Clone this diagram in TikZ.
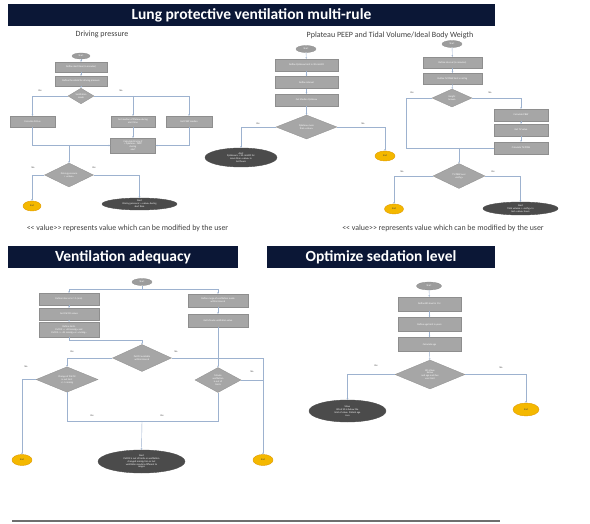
\documentclass[tikz,border=0pt]{standalone}
\usepackage{fontspec}
\setmainfont{Carlito}
\usetikzlibrary{shapes.geometric,arrows.meta}
\definecolor{navy}{HTML}{0B1736}
\definecolor{boxfill}{HTML}{A6A6A6}
\definecolor{boxline}{HTML}{8E8E8E}
\definecolor{darkell}{HTML}{4B4B4B}
\definecolor{startfill}{HTML}{9C9C9C}
\definecolor{endfill}{HTML}{F4B800}
\definecolor{endline}{HTML}{E09A00}
\definecolor{conncol}{HTML}{9DB2CF}
\definecolor{txtgray}{HTML}{404040}
\definecolor{rulegray}{HTML}{6E6E6E}
\tikzset{
  tiny/.style={font=\fontsize{2.5}{2.9}\selectfont},
  sz/.style 2 args={minimum width=#1pt, minimum height=#2pt},
  banner/.style={fill=navy, text=white, font=\bfseries\fontsize{15.5}{17}\selectfont, inner sep=0pt, anchor=center},
  subtitle/.style={text=txtgray, font=\fontsize{8}{9}\selectfont, inner sep=0pt},
  footer/.style={text=txtgray, font=\fontsize{7.9}{9}\selectfont, inner sep=0pt},
  stepbox/.style={rectangle, fill=boxfill, draw=boxline, line width=0.3pt, text=white, tiny, align=center, inner sep=0.5pt},
  decision/.style={diamond, fill=boxfill, draw=boxline, line width=0.3pt, text=white, tiny, align=center, inner sep=0pt},
  startnode/.style={ellipse, fill=startfill, draw=boxline, line width=0.3pt, text=white, tiny, inner sep=0pt},
  endnode/.style={ellipse, fill=endfill, draw=endline, line width=0.4pt, text=txtgray, tiny, inner sep=0pt},
  alertnode/.style={ellipse, fill=darkell, draw=darkell, text=white, tiny, align=center, inner sep=0pt},
  lbl/.style={text=txtgray, tiny, inner sep=0pt},
  conn/.style={draw=conncol, line width=0.4pt, -{Stealth[length=1.6pt,width=1.6pt]}},
  plain/.style={draw=conncol, line width=0.4pt},
}
\begin{document}
\begin{tikzpicture}[x=1pt,y=-1pt]
\useasboundingbox (0,0) rectangle (590,524);
\fill[white] (0,0) rectangle (590,524);

% ===== banners =====
\node[banner, minimum width=487pt, minimum height=22pt] (ban1) at (251.5,15) {Lung protective ventilation multi-rule};
\node[banner, minimum width=230pt, minimum height=22pt] (ban2) at (123,257) {Ventilation adequacy};
\node[banner, minimum width=228pt, minimum height=22pt] (ban3) at (381,257) {Optimize sedation level};
\draw[rulegray, line width=1.3pt] (12,521) -- (500,521);

% ===== Driving pressure =====
\node[subtitle] (dptitle) at (102,34) {Driving pressure};
\node[startnode, sz={18}{6}] (dpstart) at (81,56) {Start};
\node[stepbox, sz={52}{10}] (dpb1) at (81,67) {Define alert time (in minutes)};
\node[stepbox, sz={52}{10}] (dpb2) at (81,81) {Define threshold for driving pressure};
\node[decision, sz={26}{13}] (dpd1) at (81,96) {Ventilation\\mode};
\node[lbl] (dpyes1) at (40,91) {Yes};
\node[lbl] (dpno1) at (121,91) {No};
\node[stepbox, sz={45}{11}] (dpl) at (32.5,121.5) {Calculate Pdrive};
\node[stepbox, sz={44}{11}] (dpm) at (133,121.5) {Get median of Plateau during\\alert time};
\node[stepbox, sz={46}{11}] (dpr) at (189,121.5) {Get PEEP median};
\node[stepbox, sz={45}{15}] (dpc) at (133,145.5) {Calculate Driving P\\= Pplateau - PEEP\\during\\alert};
\node[decision, sz={49}{24}] (dpd2) at (69,175) {Driving pressure\\> {<<}value{>>}};
\node[lbl] (dpno2) at (33,168) {No};
\node[lbl] (dpyes2) at (94,168) {Yes};
\node[endnode, sz={18}{10}] (dpend) at (32,206) {End};
\node[alertnode, sz={75}{12}] (dpalert) at (139.5,204) {Alert\\Driving pressure {>} {<<}value{>>} during\\alert time};
\node[footer] (dpfoot) at (127.5,228) {<{}< value>{}> represents value which can be modified by the user};

\draw[conn] (dpstart) -- (dpb1);
\draw[conn] (dpb1) -- (dpb2);
\draw[conn] (dpb2) -- (dpd1);
\draw[conn] (dpd1.west) -| (dpl.north);
\draw[conn] (dpd1.east) -| (dpr.north);
\draw[conn] (dpm.north |- dpd1.east) -- (dpm.north);
\draw[conn] (dpm) -- (dpc);
\draw[conn] (dpl.south) |- (dpc.west);
\draw[conn] (dpr.south) |- (dpc.east);
\draw[conn] (dpd2.north |- dpc.west) -- (dpd2.north);
\draw[conn] (dpd2.west) -| (dpend.north);
\draw[conn] (dpd2.east) -| (dpalert.north);

% ===== Pplateau =====
\node[subtitle] (pptitle) at (390,35) {Pplateau PEEP and Tidal Volume/Ideal Body Weigth};
\node[startnode, sz={20}{7}] (ppstart) at (306,49) {Start};
\node[stepbox, sz={63}{12}] (ppb1) at (306.5,65) {Define Pplateau limit in 30 cmH2O};
\node[stepbox, sz={63}{12}] (ppb2) at (306.5,82.5) {Define interval};
\node[stepbox, sz={63}{12}] (ppb3) at (306.5,100) {Get Median Pplateau};
\node[decision, sz={61}{24}] (ppd) at (306.5,127) {Pplateau more\\than {<<}value{>>}};
\node[lbl] (ppyes) at (258,124) {Yes};
\node[lbl] (ppno) at (363,124) {No};
\node[alertnode, sz={72}{19}] (ppalert) at (241,157.5) {Alert\\Pplateau is {>} 30 cmH2O for\\more than {<<}value{>>} in\\last hours};
\node[endnode, sz={20}{10}] (ppend) at (385,156) {End};

\draw[conn] (ppstart) -- (ppb1);
\draw[conn] (ppb1) -- (ppb2);
\draw[conn] (ppb2) -- (ppb3);
\draw[conn] (ppb3) -- (ppd);
\draw[conn] (ppd.west) -| (ppalert.north);
\draw[conn] (ppd.east) -| (ppend.north);

% ===== Tidal volume =====
\node[startnode, sz={20}{7}] (tvstart) at (452,44) {Start};
\node[stepbox, sz={59}{11}] (tvb1) at (452.5,62.5) {Define interval (in minutes)};
\node[stepbox, sz={59}{11}] (tvb2) at (452.5,78.5) {Define TV/PBW limit in ml/kg};
\node[decision, sz={40}{18}] (tvd1) at (452,98) {Height\\known};
\node[lbl] (tvyes) at (412,93) {Yes};
\node[lbl] (tvno) at (490,93) {No};
\node[stepbox, sz={54}{12}] (tvpbw) at (521,115) {Calculate PBW};
\node[stepbox, sz={54}{12}] (tvget) at (521,130) {Get TV value};
\node[stepbox, sz={54}{12}] (tvcalc) at (521,148) {Calculate TV/PBW};
\coordinate (tvj) at (406,148);
\node[decision, sz={52}{25}] (tvd2) at (459,176) {TV/PBW over\\{<<}ml/kg{>>}};
\node[lbl] (tvno2) at (402,172) {No};
\node[lbl] (tvyes2) at (493,172) {Yes};
\node[endnode, sz={19}{10}] (tvend) at (394,209) {End};
\node[alertnode, sz={75}{13}] (tvalert) at (520.5,208.5) {Alert\\Tidal volume {>} {<<}ml/kg{>>} in\\last {<<}value{>>} hours};
\node[footer] (tvfoot) at (443,228) {<{}< value>{}> represents value which can be modified by the user};

\draw[conn] (tvstart) -- (tvb1);
\draw[conn] (tvb1) -- (tvb2);
\draw[conn] (tvb2) -- (tvd1);
\draw[conn] (tvd1.east) -| (tvpbw.north);
\draw[conn] (tvpbw) -- (tvget);
\draw[conn] (tvget) -- (tvcalc);
\draw[plain] (tvd1.west) -| (tvj);
\draw[plain] (tvcalc.west) -- (tvj);
\draw[conn] (tvd2.north |- tvj) -- (tvd2.north);
\draw[conn] (tvd2.west) -| (tvend.north);
\draw[conn] (tvd2.east) -| (tvalert.north);

% ===== Ventilation adequacy =====
\node[startnode, sz={20}{7}] (vastart) at (142,282) {Start};
\coordinate (vaj1) at (142,289);
\node[stepbox, sz={60}{12}] (val1) at (69,299) {Define interval in 1 h (min)};
\node[stepbox, sz={60}{12}] (val2) at (69,314) {Get PaCO2 values};
\node[stepbox, sz={60}{15}] (val3) at (69,329.5) {Define limits\\PaCO2 {>=} {<<}50 mmHg{>>} and\\PaCO2 {<=} {<<}35 mmHg{>>} or {<<}mmHg{>>}};
\node[stepbox, sz={60}{13}] (var1) at (218,300.5) {Define range of ventilation mode\\within interval};
\node[stepbox, sz={60}{13}] (var2) at (218,320.5) {Get Minute ventilation value};
\coordinate (vaj2) at (142,340);
\node[decision, sz={59}{27}] (vad) at (142,358) {PaCO2 available\\within interval};
\node[lbl] (vayes) at (72,352) {Yes};
\node[lbl] (vano) at (176,352) {No};
\node[decision, sz={62}{25}] (vadl) at (67,379.5) {Change of PaCO2\\is out limit\\+/- 5 mmHg};
\node[lbl] (vanol) at (26,367) {No};
\node[decision, sz={46}{25}] (vadr) at (218,380) {Minute\\ventilation\\is out of\\limits};
\node[lbl] (vanor) at (252,372) {No};
\node[endnode, sz={20}{11}] (vaendl) at (22,460) {End};
\node[endnode, sz={20}{11}] (vaendr) at (263,460) {End};
\coordinate (vaj3) at (142,421);
\node[lbl] (vayesl) at (92,416) {Yes};
\node[lbl] (vayesr) at (162,416) {Yes};
\node[alertnode, sz={87}{23}] (vaalert) at (141.5,461.5) {Alert\\PaCO2 is out of limits or ventilation\\changed mmHg/min or last\\ventilation mode is different to\\ranges};

\draw[plain] (vastart) -- (vaj1);
\draw[conn] (vaj1) -| (val1.north);
\draw[conn] (vaj1) -| (var1.north);
\draw[conn] (val1) -- (val2);
\draw[conn] (val2) -- (val3);
\draw[conn] (var1) -- (var2);
\draw[conn] (val3.south) |- (vaj2) -- (vad.north);
\draw[conn] (vad.west) -| (vadl.north);
\draw[conn] (vadl.west) -| (vaendl.north);
\draw[conn] (vad.east) -| (vaendr.north);
\draw[conn] (var2) -- (vadr);
\draw[plain] (vadr.east) -- (vaendr.north |- vadr.east);
\draw[plain] (vadl.south) |- (vaj3);
\draw[plain] (vadr.south) |- (vaj3);
\draw[conn] (vaj3) -- (vaalert.north);

% ===== Optimize sedation =====
\node[startnode, sz={25}{8}] (sestart) at (429,286) {Start};
\node[stepbox, sz={63}{14}] (seb1) at (429.5,304) {Define BIS level in 1 hr};
\node[stepbox, sz={63}{14}] (seb2) at (429.5,324.5) {Define age limit in years};
\node[stepbox, sz={63}{14}] (seb3) at (429.5,344.5) {Calculate age};
\node[decision, sz={70}{29}] (sed) at (430,374.5) {BIS Value\\below\\and age matches\\user limit};
\node[lbl] (seyes) at (376,366) {Yes};
\node[lbl] (seno) at (501,368) {No};
\node[alertnode, sz={77}{22}] (sealert) at (347.5,411) {Show\\BIS of 40 is below the\\limit of value. Patient age\\is xx};
\node[endnode, sz={26}{13}] (seend) at (526,409.5) {End};

\draw[conn] (sestart) -- (seb1);
\draw[conn] (seb1) -- (seb2);
\draw[conn] (seb2) -- (seb3);
\draw[conn] (seb3) -- (sed);
\draw[conn] (sed.west) -| (sealert.north);
\draw[conn] (sed.east) -| (seend.north);
\end{tikzpicture}
\end{document}
